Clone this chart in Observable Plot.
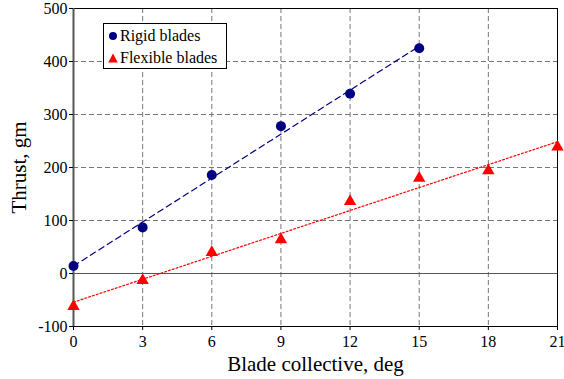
<!DOCTYPE html>
<html><head><meta charset="utf-8">
<script src="https://cdn.jsdelivr.net/npm/d3@7"></script>
<script src="https://cdn.jsdelivr.net/npm/@observablehq/plot@0.6"></script>
<style>
body{margin:0;background:#fff;}
#wrap{position:relative;width:564px;height:379px;font-family:"Liberation Serif",serif;}
#wrap svg, #wrap svg text, #wrap svg g{font-family:"Liberation Serif",serif !important;font-variant:normal !important;}
#legend{position:absolute;left:103px;top:23px;width:124px;height:46px;border:1px solid #000;background:#fff;font-size:16px;line-height:22px;box-sizing:border-box;padding-left:4px;padding-top:1px;}
#legend svg{vertical-align:middle;margin-right:2px;position:relative;top:-1px;}
</style></head><body>
<div id="wrap"></div>
<script>
const rigidX = [0, 3, 6, 9, 12, 15];
const rigidY = [14, 87, 186, 278, 339, 425];
const flexX = [0, 3, 6, 9, 12, 15, 18, 21];
const flexY = [-62, -13, 40, 64, 136, 180, 194, 239];
const xTicks = [0, 3, 6, 9, 12, 15, 18, 21];
const yTicks = [-100, 0, 100, 200, 300, 400, 500];

const rigid = rigidX.map((x, i) => ({x, y: rigidY[i]}));
const flex = flexX.map((x, i) => ({x, y: flexY[i]}));
const fmt = d => String(d);
const serif = "Liberation Serif";

const chart = Plot.plot({
  width: 564, height: 379,
  marginLeft: 73, marginRight: 7, marginTop: 8, marginBottom: 53,
  style: {fontFamily: "Liberation Serif, serif", fontSize: "16px", color: "#000", background: "#fff"},
  x: {domain: [0, 21]},
  y: {domain: [-100, 500]},
  marks: [
    Plot.gridX(xTicks.slice(1, -1), {stroke: "#777", strokeOpacity: 1, strokeDasharray: "5,3"}),
    Plot.gridY(yTicks.slice(1, -1), {stroke: "#777", strokeOpacity: 1, strokeDasharray: "5,3"}),
    Plot.ruleY([0], {stroke: "#555", strokeWidth: 1.2}),
    Plot.frame({stroke: "#000"}),
    Plot.ruleX([0], {stroke: "#555", strokeWidth: 2}),
    Plot.linearRegressionY(rigid, {x: "x", y: "y", stroke: "#000080", strokeWidth: 1.2, strokeDasharray: "6,4", ci: 0}),
    Plot.linearRegressionY(flex, {x: "x", y: "y", stroke: "red", strokeWidth: 1.2, strokeDasharray: "2,2", ci: 0}),
    Plot.dot(rigid, {x: "x", y: "y", r: 5, fill: "#000080", stroke: "none"}),
    Plot.dot(flex, {x: "x", y: "y", r: 4.6, symbol: "triangle", fill: "red", stroke: "none"}),
    Plot.axisX({ticks: xTicks, tickFormat: fmt, label: null, fontSize: 16, fontFamily: serif, fontVariant: "normal", tickSize: 4, tickPadding: 5}),
    Plot.axisY({ticks: yTicks, tickFormat: fmt, label: null, fontSize: 16, fontFamily: serif, fontVariant: "normal", tickSize: 4, tickPadding: 2}),
    Plot.axisX({ticks: [], label: "Blade collective, deg", labelAnchor: "center", labelArrow: "none", labelOffset: 44, fontSize: 21, fontFamily: serif}),
    Plot.axisY({ticks: [], label: "Thrust, gm", labelAnchor: "center", labelArrow: "none", labelOffset: 62, fontSize: 21, fontFamily: serif})
  ]
});
const wrap = document.getElementById("wrap");
wrap.appendChild(chart);
const lg = document.createElement("div");
lg.id = "legend";
lg.innerHTML = '<div><svg width="10" height="10"><circle cx="5" cy="5" r="4" fill="#000080"/></svg>Rigid blades</div>' +
  '<div><svg width="10" height="10"><path d="M5,0.5L9.8,9.5L0.2,9.5Z" fill="red"/></svg>Flexible blades</div>';
wrap.appendChild(lg);
</script>
</body></html>
